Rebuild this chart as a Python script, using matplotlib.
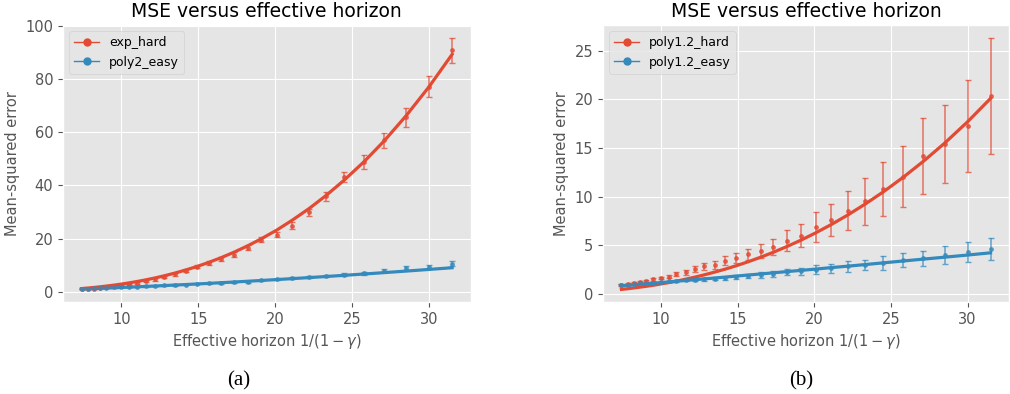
import matplotlib
matplotlib.use('Agg')
import matplotlib.pyplot as plt
from matplotlib.lines import Line2D

plt.style.use('ggplot')

# effective horizon 1/(1-gamma)
horizon = [7.41, 7.82, 8.21, 8.6, 9.03, 9.5, 9.98, 10.5, 11.0, 11.6,
           12.2, 12.8, 13.5, 14.2, 14.9, 15.7, 16.5, 17.3, 18.2, 19.1,
           20.1, 21.1, 22.2, 23.3, 24.5, 25.8, 27.1, 28.5, 30.0, 31.5]

# panel (a)
exp_hard = [1.0, 1.0, 1.15, 1.4, 1.6, 2.0, 2.4, 2.75, 3.4, 4.0,
            4.6, 5.5, 6.6, 7.9, 9.4, 10.8, 12.3, 14.0, 16.6, 19.6,
            21.5, 24.9, 29.9, 35.9, 43.2, 48.8, 57.0, 65.7, 77.2, 90.9]
exp_hard_err = [0.15, 0.15, 0.2, 0.2, 0.2, 0.25, 0.25, 0.3, 0.35, 0.4,
                0.45, 0.5, 0.55, 0.6, 0.65, 0.7, 0.75, 0.85, 0.9, 0.9,
                1.0, 1.2, 1.3, 1.8, 2.0, 2.5, 2.9, 3.5, 4.0, 4.8]
exp_hard_fit = [1.16, 1.37, 1.58, 1.82, 2.11, 2.45, 2.84, 3.31, 3.81, 4.46,
                5.19, 6.0, 7.04, 8.19, 9.46, 11.07, 12.85, 14.81, 17.24, 19.93,
                23.2, 26.9, 31.3, 36.2, 42.1, 49.1, 56.9, 66.2, 77.2, 89.4]
poly2_easy = [1.1, 1.15, 1.25, 1.4, 1.5, 1.6, 1.7, 1.75, 1.9, 2.0,
              2.1, 2.4, 2.5, 2.6, 2.9, 3.1, 3.25, 3.5, 3.75, 4.25,
              4.6, 5.1, 5.4, 6.0, 6.4, 6.9, 7.9, 8.8, 9.3, 10.5]
poly2_easy_err = [0.1, 0.1, 0.1, 0.1, 0.1, 0.1, 0.1, 0.15, 0.15, 0.15,
                  0.15, 0.2, 0.2, 0.2, 0.2, 0.25, 0.25, 0.3, 0.3, 0.3,
                  0.35, 0.35, 0.4, 0.45, 0.5, 0.55, 0.6, 0.8, 0.8, 0.9]
poly2_easy_fit = [1.0, 1.09, 1.17, 1.25, 1.35, 1.46, 1.57, 1.7, 1.82, 1.98,
                  2.13, 2.3, 2.49, 2.69, 2.89, 3.13, 3.38, 3.63, 3.92, 4.22,
                  4.56, 4.91, 5.3, 5.71, 6.16, 6.66, 7.18, 7.75, 8.38, 9.02]

# panel (b)
poly12_hard = [0.96, 1.06, 1.16, 1.27, 1.37, 1.5, 1.68, 1.78, 2.05, 2.22,
               2.56, 2.84, 2.98, 3.45, 3.7, 4.07, 4.41, 4.82, 5.5, 6.0,
               6.9, 7.63, 8.55, 9.54, 10.8, 12.07, 14.2, 15.4, 17.27, 20.35]
poly12_hard_err = [0.08, 0.08, 0.1, 0.1, 0.1, 0.12, 0.12, 0.15, 0.2, 0.25,
                   0.3, 0.35, 0.4, 0.45, 0.55, 0.6, 0.7, 0.85, 1.05, 1.2,
                   1.5, 1.65, 2.0, 2.4, 2.73, 3.1, 3.9, 4.0, 4.75, 6.0]
poly12_hard_fit = [0.48, 0.55, 0.63, 0.71, 0.8, 0.91, 1.04, 1.18, 1.33, 1.53,
                   1.74, 1.97, 2.26, 2.57, 2.91, 3.33, 3.79, 4.28, 4.88, 5.52,
                   6.3, 7.14, 8.14, 9.23, 10.5, 12.0, 13.62, 15.5, 17.7, 20.1]
poly12_easy = [0.96, 0.98, 1.03, 1.1, 1.13, 1.16, 1.2, 1.3, 1.3, 1.4,
               1.44, 1.5, 1.6, 1.64, 1.78, 1.85, 1.98, 2.09, 2.26, 2.33,
               2.5, 2.63, 2.84, 2.98, 3.2, 3.49, 3.66, 4.0, 4.31, 4.65]
poly12_easy_err = [0.05, 0.05, 0.05, 0.06, 0.06, 0.07, 0.08, 0.08, 0.1, 0.1,
                   0.12, 0.12, 0.14, 0.15, 0.18, 0.2, 0.28, 0.3, 0.35, 0.4,
                   0.45, 0.48, 0.52, 0.55, 0.68, 0.72, 0.8, 0.95, 1.05, 1.1]
poly12_easy_fit = [0.85, 0.9, 0.95, 1.0, 1.06, 1.12, 1.18, 1.25, 1.32, 1.4,
                   1.48, 1.56, 1.65, 1.75, 1.85, 1.96, 2.07, 2.18, 2.31, 2.43,
                   2.57, 2.72, 2.87, 3.03, 3.21, 3.4, 3.59, 3.79, 4.01, 4.24]

red = '#E24A33'
blue = '#348ABD'

fig = plt.figure(figsize=(10.1, 3.94), dpi=100, facecolor='white')
axA = fig.add_axes([0.0624, 0.2335, 0.4036, 0.703])
axB = fig.add_axes([0.597, 0.2335, 0.402, 0.703])

panels = [
    (axA, [(exp_hard, exp_hard_err, exp_hard_fit, red, 'exp_hard'),
           (poly2_easy, poly2_easy_err, poly2_easy_fit, blue, 'poly2_easy')]),
    (axB, [(poly12_hard, poly12_hard_err, poly12_hard_fit, red, 'poly1.2_hard'),
           (poly12_easy, poly12_easy_err, poly12_easy_fit, blue, 'poly1.2_easy')]),
]

for ax, series in panels:
    handles = []
    for vals, err, fit, col, lab in series:
        ax.errorbar(horizon, vals, yerr=err, fmt='o', ms=2.5, color=col,
                    ecolor=col, elinewidth=1.1, capsize=2, alpha=0.75)
        ax.plot(horizon, fit, '-', color=col, lw=2.3)
        handles.append(Line2D([], [], color=col, marker='o', ms=5, lw=1, label=lab))
    ax.legend(handles=handles, loc='upper left', fontsize=9, handlelength=2.0)
    ax.set_title('MSE versus effective horizon', fontsize=13.5)
    ax.set_xlabel(r'Effective horizon $1/(1-\gamma)$', fontsize=10.5)
    ax.set_ylabel('Mean-squared error', fontsize=10.5)
    ax.tick_params(labelsize=10.5)

fig.text(0.236, 0.022, '(a)', fontsize=15, family='Liberation Serif', ha='center')
fig.text(0.793, 0.022, '(b)', fontsize=15, family='Liberation Serif', ha='center')

fig.savefig('out.png', dpi=100, facecolor='white')
